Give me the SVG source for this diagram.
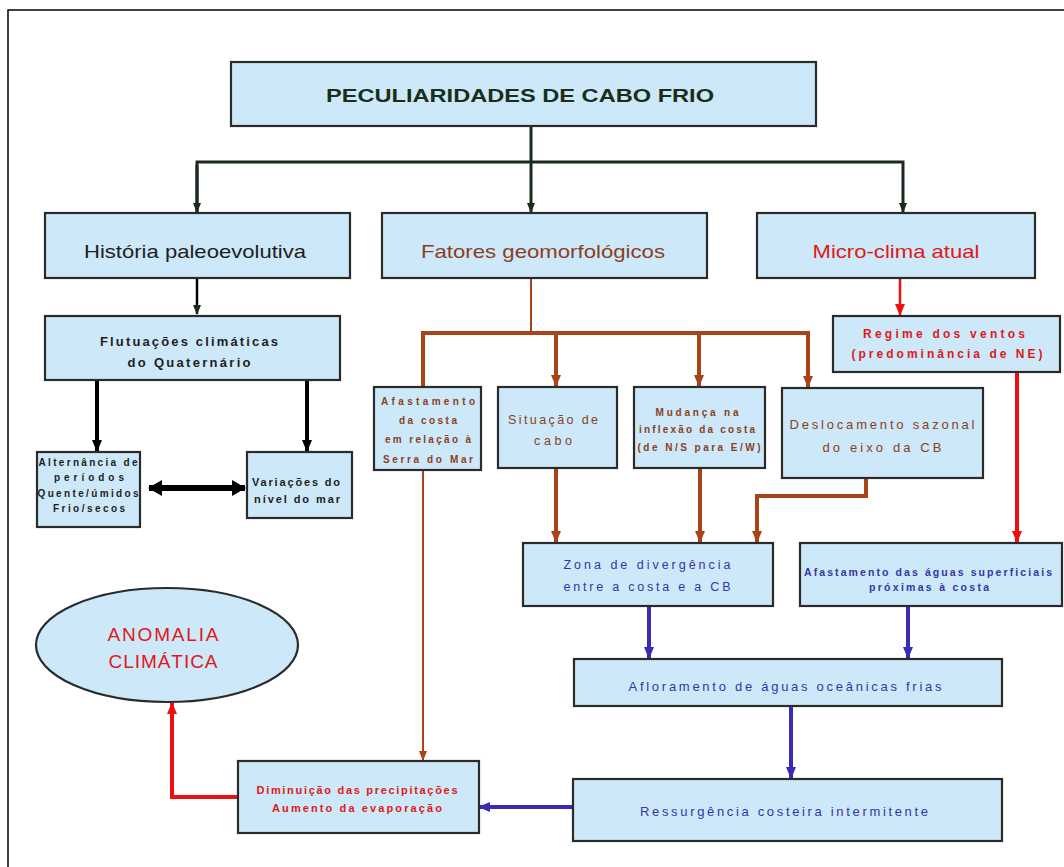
<svg xmlns="http://www.w3.org/2000/svg" width="1064" height="867" viewBox="0 0 1064 867">
<style>
.box{fill:#cde8f8;stroke:#2b2b2b;stroke-width:2.2}
.t{font-family:"Liberation Sans",Arial,sans-serif;text-anchor:middle}
.dk{fill:#1e1e1e}
.br{fill:#8a4020}
.rd{fill:#e01818}
.bl{fill:#3535a8}
.cg{fill:none;stroke:#1c2a1c;stroke-width:3}
.cbk{fill:none;stroke:#000;stroke-width:4}
.cbr{fill:none;stroke:#a84418;stroke-width:4}
.cbrt{fill:none;stroke:#a84418;stroke-width:2}
.crd{fill:none;stroke:#ee1010;stroke-width:4}
.cbl{fill:none;stroke:#3a2ab8;stroke-width:4}
</style>
<defs>
<marker id="ag" markerUnits="userSpaceOnUse" markerWidth="10" markerHeight="10" refX="9" refY="5" orient="auto"><path d="M0,1 L10,5 L0,9 Z" fill="#1c2a1c"/></marker>
<marker id="ak" markerUnits="userSpaceOnUse" markerWidth="12" markerHeight="12" refX="11" refY="6" orient="auto"><path d="M0,1 L12,6 L0,11 Z" fill="#000"/></marker>
<marker id="ak2" markerUnits="userSpaceOnUse" markerWidth="14" markerHeight="16" refX="13" refY="8" orient="auto-start-reverse"><path d="M0,0 L14,8 L0,16 Z" fill="#000"/></marker>
<marker id="abr" markerUnits="userSpaceOnUse" markerWidth="12" markerHeight="12" refX="11" refY="6" orient="auto"><path d="M0,1 L12,6 L0,11 Z" fill="#a84418"/></marker>
<marker id="abrt" markerUnits="userSpaceOnUse" markerWidth="10" markerHeight="10" refX="9" refY="5" orient="auto"><path d="M0,1 L10,5 L0,9 Z" fill="#a84418"/></marker>
<marker id="ard" markerUnits="userSpaceOnUse" markerWidth="12" markerHeight="12" refX="11" refY="6" orient="auto"><path d="M0,1 L12,6 L0,11 Z" fill="#ee1010"/></marker>
<marker id="abl" markerUnits="userSpaceOnUse" markerWidth="12" markerHeight="12" refX="11" refY="6" orient="auto"><path d="M0,1 L12,6 L0,11 Z" fill="#3a2ab8"/></marker>
</defs>
<rect width="1064" height="867" fill="#fff"/>
<path d="M8,867 L8,10 L1064,10" fill="none" stroke="#000" stroke-width="1.5"/>

<g id="connectors">
<path class="cg" d="M531,127 L531,212" marker-end="url(#ag)"/>
<path class="cg" d="M197,212 L197,162 L903,162 L903,212" marker-end="url(#ag)"/>
<path class="cg" d="M197,165 L197,212" marker-end="url(#ag)"/>
<path class="cbk" style="stroke-width:2.5" d="M197,279 L197,314" marker-end="url(#ag)"/>
<path class="cbk" d="M97,381 L97,451" marker-end="url(#ak)"/>
<path class="cbk" d="M307,381 L307,451" marker-end="url(#ak)"/>
<path class="cbk" style="stroke-width:6" d="M149,488 L245,488" marker-start="url(#ak2)" marker-end="url(#ak2)"/>
<path class="cbrt" d="M531,279 L531,333"/>
<path class="cbr" d="M423,386 L423,333 L808,333 L808,387" marker-end="url(#abr)"/>
<path class="cbr" d="M556,333 L556,386" marker-end="url(#abr)"/>
<path class="cbr" d="M699,333 L699,386" marker-end="url(#abr)"/>
<path class="cbr" d="M556,469 L556,542" marker-end="url(#abr)"/>
<path class="cbr" d="M700,469 L700,542" marker-end="url(#abr)"/>
<path class="cbr" d="M866,479 L866,496 L757,496 L757,542" marker-end="url(#abr)"/>
<path class="cbrt" d="M423,471 L423,760" marker-end="url(#abrt)"/>
<path class="crd" style="stroke-width:2.5" d="M900,279 L900,315" marker-end="url(#ard)"/>
<path class="crd" d="M1017,373 L1017,542" marker-end="url(#ard)"/>
<path class="cbl" d="M649,607 L649,658" marker-end="url(#abl)"/>
<path class="cbl" d="M908,607 L908,658" marker-end="url(#abl)"/>
<path class="cbl" d="M791,707 L791,778" marker-end="url(#abl)"/>
<path class="cbl" d="M573,807 L479,807" marker-end="url(#abl)"/>
<path class="crd" d="M238,797 L172,797 L172,703" marker-end="url(#ard)"/>
</g>

<g id="n-title"><rect class="box" x="231" y="62" width="585" height="64"/><text class="t" x="520" y="102" font-size="18" font-weight="bold" fill="#1a2e1a" textLength="388" lengthAdjust="spacingAndGlyphs">PECULIARIDADES DE CABO FRIO</text></g>

<g id="n-historia"><rect class="box" x="45" y="213" width="305" height="65"/><text class="t dk" x="195" y="258" font-size="19" textLength="222" lengthAdjust="spacingAndGlyphs">História paleoevolutiva</text></g>
<g id="n-fatores"><rect class="box" x="382" y="213" width="325" height="65"/><text class="t br" x="543" y="258" font-size="19" textLength="244" lengthAdjust="spacingAndGlyphs">Fatores geomorfológicos</text></g>
<g id="n-micro"><rect class="box" x="757" y="213" width="278" height="65"/><text class="t rd" x="896" y="258" font-size="19" textLength="167" lengthAdjust="spacingAndGlyphs">Micro-clima atual</text></g>

<g id="n-flutuacoes"><rect class="box" x="45" y="316" width="295" height="64"/>
<text class="t dk" x="189" y="346" font-size="13" font-weight="bold" textLength="178" lengthAdjust="spacing">Flutuações climáticas</text>
<text class="t dk" x="189" y="367" font-size="13" font-weight="bold" textLength="123" lengthAdjust="spacing">do Quaternário</text></g>

<g id="n-alternancia"><rect class="box" x="37" y="452" width="103" height="75"/>
<text class="t dk" x="88" y="466" font-size="10" font-weight="bold" textLength="99" lengthAdjust="spacing">Alternância de</text>
<text class="t dk" x="89" y="481" font-size="10" font-weight="bold" textLength="70" lengthAdjust="spacing">períodos</text>
<text class="t dk" x="88" y="497" font-size="10" font-weight="bold" textLength="101" lengthAdjust="spacing">Quente/úmidos</text>
<text class="t dk" x="89" y="512" font-size="10" font-weight="bold" textLength="72" lengthAdjust="spacing">Frio/secos</text></g>

<g id="n-variacoes"><rect class="box" x="247" y="452" width="105" height="66"/>
<text class="t dk" x="296" y="486" font-size="11" font-weight="bold" textLength="88" lengthAdjust="spacing">Variações do</text>
<text class="t dk" x="297" y="503" font-size="11" font-weight="bold" textLength="86" lengthAdjust="spacing">nível do mar</text></g>

<g id="n-afast-costa"><rect class="box" x="374" y="387" width="107" height="83"/>
<text class="t br" x="428" y="405" font-size="10" font-weight="bold" textLength="94" lengthAdjust="spacing">Afastamento</text>
<text class="t br" x="428" y="424" font-size="10" font-weight="bold" textLength="58" lengthAdjust="spacing">da costa</text>
<text class="t br" x="428" y="443" font-size="10" font-weight="bold" textLength="86" lengthAdjust="spacing">em relação à</text>
<text class="t br" x="428" y="463" font-size="10" font-weight="bold" textLength="90" lengthAdjust="spacing">Serra do Mar</text></g>

<g id="n-situacao"><rect class="box" x="498" y="387" width="119" height="81"/>
<text class="t br" x="553" y="424" font-size="12.5" textLength="90" lengthAdjust="spacing">Situação de</text>
<text class="t br" x="553" y="445" font-size="12.5" textLength="38" lengthAdjust="spacing">cabo</text></g>

<g id="n-mudanca"><rect class="box" x="634" y="387" width="131" height="81"/>
<text class="t br" x="697" y="416" font-size="10" font-weight="bold" textLength="83" lengthAdjust="spacing">Mudança na</text>
<text class="t br" x="697" y="433" font-size="10" font-weight="bold" textLength="116" lengthAdjust="spacing">inflexão da costa</text>
<text class="t br" x="699" y="451" font-size="10" font-weight="bold" textLength="123" lengthAdjust="spacing">(de N/S para E/W)</text></g>

<g id="n-deslocamento"><rect class="box" x="782" y="388" width="201" height="90"/>
<text class="t br" x="882" y="429" font-size="13" textLength="185" lengthAdjust="spacing">Deslocamento sazonal</text>
<text class="t br" x="882" y="452" font-size="13" textLength="119" lengthAdjust="spacing">do eixo da CB</text></g>

<g id="n-regime"><rect class="box" x="833" y="316" width="227" height="56"/>
<text class="t rd" x="944" y="338" font-size="12" font-weight="bold" textLength="162" lengthAdjust="spacing">Regime dos ventos</text>
<text class="t rd" x="947" y="358" font-size="12" font-weight="bold" textLength="191" lengthAdjust="spacing">(predominância de NE)</text></g>

<g id="n-zona"><rect class="box" x="523" y="543" width="250" height="63"/>
<text class="t bl" x="647" y="569" font-size="12.5" textLength="167" lengthAdjust="spacing">Zona de divergência</text>
<text class="t bl" x="647" y="591" font-size="12.5" textLength="167" lengthAdjust="spacing">entre a costa e a CB</text></g>

<g id="n-afast-aguas"><rect class="box" x="800" y="543" width="262" height="63"/>
<text class="t bl" x="928" y="576" font-size="10.5" font-weight="bold" textLength="248" lengthAdjust="spacing">Afastamento das águas superficiais</text>
<text class="t bl" x="929" y="591" font-size="10.5" font-weight="bold" textLength="120" lengthAdjust="spacing">próximas à costa</text></g>

<g id="n-afloramento"><rect class="box" x="574" y="659" width="428" height="47"/>
<text class="t bl" x="785" y="691" font-size="13" textLength="313" lengthAdjust="spacing">Afloramento de águas oceânicas frias</text></g>

<g id="n-ressurgencia"><rect class="box" x="573" y="779" width="429" height="62"/>
<text class="t bl" x="784" y="816" font-size="13" textLength="288" lengthAdjust="spacing">Ressurgência costeira intermitente</text></g>

<g id="n-diminuicao"><rect class="box" x="238" y="761" width="241" height="72"/>
<text class="t rd" x="357" y="794" font-size="11" font-weight="bold" textLength="201" lengthAdjust="spacing">Diminuição das precipitações</text>
<text class="t rd" x="357" y="812" font-size="11" font-weight="bold" textLength="170" lengthAdjust="spacing">Aumento da evaporação</text></g>

<g id="n-anomalia"><ellipse cx="167" cy="645" rx="131" ry="57" fill="#cde8f8" stroke="#2b2b2b" stroke-width="2.2"/>
<text class="t rd" x="163" y="641" font-size="19" textLength="111" lengthAdjust="spacing">ANOMALIA</text>
<text class="t rd" x="163" y="668" font-size="19" textLength="109" lengthAdjust="spacing">CLIMÁTICA</text></g>
</svg>
